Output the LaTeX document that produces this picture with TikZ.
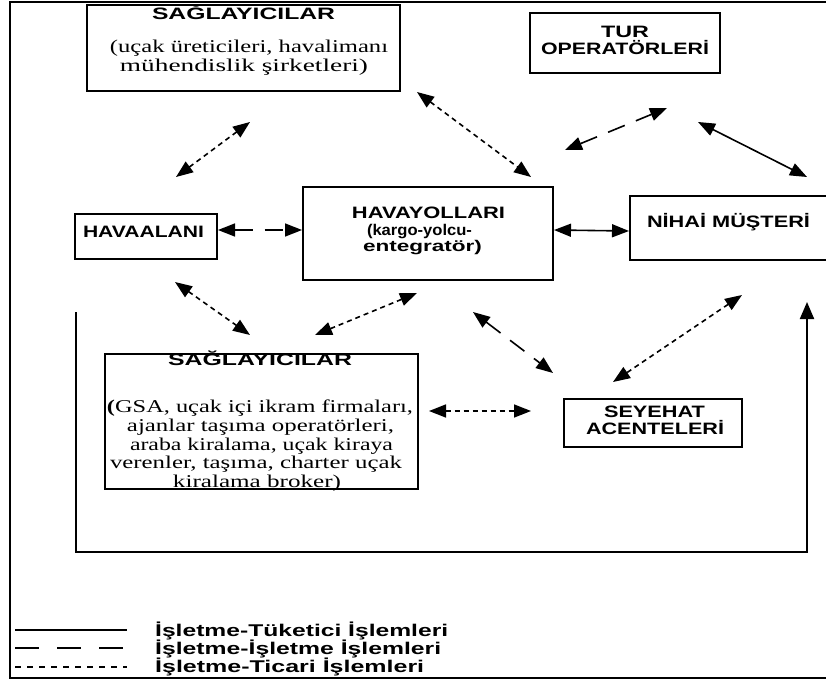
\documentclass[tikz,border=0pt]{standalone}
\usepackage{fontspec}
\setmainfont{Liberation Serif}
\setsansfont{Liberation Sans}
\usetikzlibrary{arrows.meta}
% stretch a line of text to a given width, keeping its height
\newcommand\fitw[2]{\resizebox{#1pt}{\height}{#2}}

\begin{document}
\begin{tikzpicture}[x=1pt,y=-1pt,
  box/.style={draw, line width=2pt, inner sep=0pt},
  head/.style={font=\sffamily\bfseries\fontsize{16.5}{18}\selectfont, inner sep=0pt, anchor=base},
  subhead/.style={font=\sffamily\bfseries\fontsize{15.5}{16}\selectfont, inner sep=0pt, anchor=base},
  body/.style={font=\rmfamily\fontsize{18}{20}\selectfont, inner sep=0pt, anchor=base},
  legtxt/.style={font=\sffamily\bfseries\fontsize{17}{18}\selectfont, inner sep=0pt, anchor=base west},
  tip/.tip={Triangle[length=17pt,width=13pt]},
  link/.style={line width=1.6pt, tip-tip},
  b2c/.style={link},
  b2b/.style={link, dash pattern=on 18pt off 12pt},
  trade/.style={link, dash pattern=on 5pt off 4pt},
]
\useasboundingbox (0,0) rectangle (826,682);

% outer frame
\draw[line width=2.5pt] (840,2) -- (10,2) -- (10,678) -- (840,678);

% boxes
\node[box, minimum width=313pt, minimum height=86pt] (supA) at (243.5,48) {};
\node[box, minimum width=190pt, minimum height=60pt] (tur) at (625,43) {};
\node[box, minimum width=142pt, minimum height=45pt] (hav) at (146,236.5) {};
\node[box, minimum width=250pt, minimum height=93pt] (hyo) at (428,233.5) {};
\node[box, minimum width=230pt, minimum height=64pt, anchor=north west] (nih) at (629,195) {};
\node[box, minimum width=313pt, minimum height=135pt] (supB) at (261.5,421.5) {};
\node[box, minimum width=178pt, minimum height=48pt] (sey) at (653,423) {};

% texts
\node[head] (supA-t) at (243.5,20) {\fitw{183}{SAĞLAYICILAR}};
\node[body] (supA-l1) at (249,53) {\fitw{278}{(uçak üreticileri, havalimanı}};
\node[body] (supA-l2) at (244,72) {\fitw{248}{mühendislik şirketleri)}};

\node[head] (tur-t1) at (625,38) {\fitw{48}{TUR}};
\node[head] (tur-t2) at (625,55) {\fitw{168}{OPERATÖRLERİ}};

\node[head] (hav-t) at (143.5,237.5) {\fitw{121}{HAVAALANI}};

\node[head] (hyo-t1) at (428.5,218) {\fitw{153}{HAVAYOLLARI}};
\node[subhead] (hyo-t2) at (419.5,235) {\fitw{105}{(kargo-yolcu-}};
\node[subhead] (hyo-t3) at (422.5,251) {\fitw{119}{entegratör)}};

\node[head] (nih-t) at (728.5,227) {\fitw{163}{NİHAİ MÜŞTERİ}};

\node[head] (supB-t) at (260,365) {\fitw{184}{SAĞLAYICILAR}};
\node[body] (supB-l1) at (260,412) {\fitw{306}{{\bfseries(}GSA, uçak içi ikram firmaları,}};
\node[body] (supB-l2) at (260.5,431) {\fitw{267}{ajanlar taşıma operatörleri,}};
\node[body] (supB-l3) at (261.5,450) {\fitw{263}{araba kiralama, uçak kiraya}};
\node[body] (supB-l4) at (256,468.5) {\fitw{292}{verenler, taşıma, charter uçak}};
\node[body] (supB-l5) at (257,487) {\fitw{168}{kiralama broker)}};

\node[head] (sey-t1) at (654.5,417) {\fitw{101}{SEYEHAT}};
\node[head] (sey-t2) at (655,434) {\fitw{138}{ACENTELERİ}};

% free ends of the connectors
\coordinate (a1) at (250,122);  \coordinate (a2) at (176,177);
\coordinate (b1) at (417,92);   \coordinate (b2) at (531,177);
\coordinate (c1) at (565,150);  \coordinate (c2) at (667,108);
\coordinate (d1) at (698,122);  \coordinate (d2) at (807,177);
\coordinate (g1) at (175,282);  \coordinate (g2) at (250,335);
\coordinate (h1) at (315,335);  \coordinate (h2) at (417,293);
\coordinate (i1) at (473,312);  \coordinate (i2) at (553,373);
\coordinate (j1) at (742,295);  \coordinate (j2) at (613,382);
\coordinate (k1) at (429,411);  \coordinate (k2) at (531,411);

% connectors
\draw[trade] (a1) -- (a2);
\draw[trade] (b1) -- (b2);
\draw[b2b] (c1) -- (c2);
\draw[b2c] (d1) -- (d2);
\draw[b2b] ([yshift=6.5pt]hav.east) -- ([yshift=3.5pt]hyo.west);
\draw[b2c] ([yshift=3.5pt]hyo.east) -- ([yshift=-3pt]nih.west);
\draw[trade] (g1) -- (g2);
\draw[trade] (h1) -- (h2);
\draw[b2b] (i1) -- (i2);
\draw[trade] (j1) -- (j2);
\draw[trade] (k1) -- (k2);

% feedback loop to the end customer
\coordinate (loopstart) at (76,312);
\coordinate (loopend) at (807,302);
\draw[line width=2pt, -{Triangle[length=17pt,width=14pt]}] (loopstart) -- (76,552) -| (loopend);

% legend
\draw[line width=1.6pt] (15,630) -- (127,630);
\draw[line width=1.6pt, dash pattern=on 24pt off 18pt] (15,648) -- (127,648);
\draw[line width=1.6pt, dash pattern=on 6pt off 6pt] (15,667) -- (127,667);
\node[legtxt] (leg1) at (155,636) {\fitw{293}{İşletme-Tüketici İşlemleri}};
\node[legtxt] (leg2) at (155,654) {\fitw{286}{İşletme-İşletme İşlemleri}};
\node[legtxt] (leg3) at (155,672) {\fitw{269}{İşletme-Ticari İşlemleri}};
\end{tikzpicture}
\end{document}
